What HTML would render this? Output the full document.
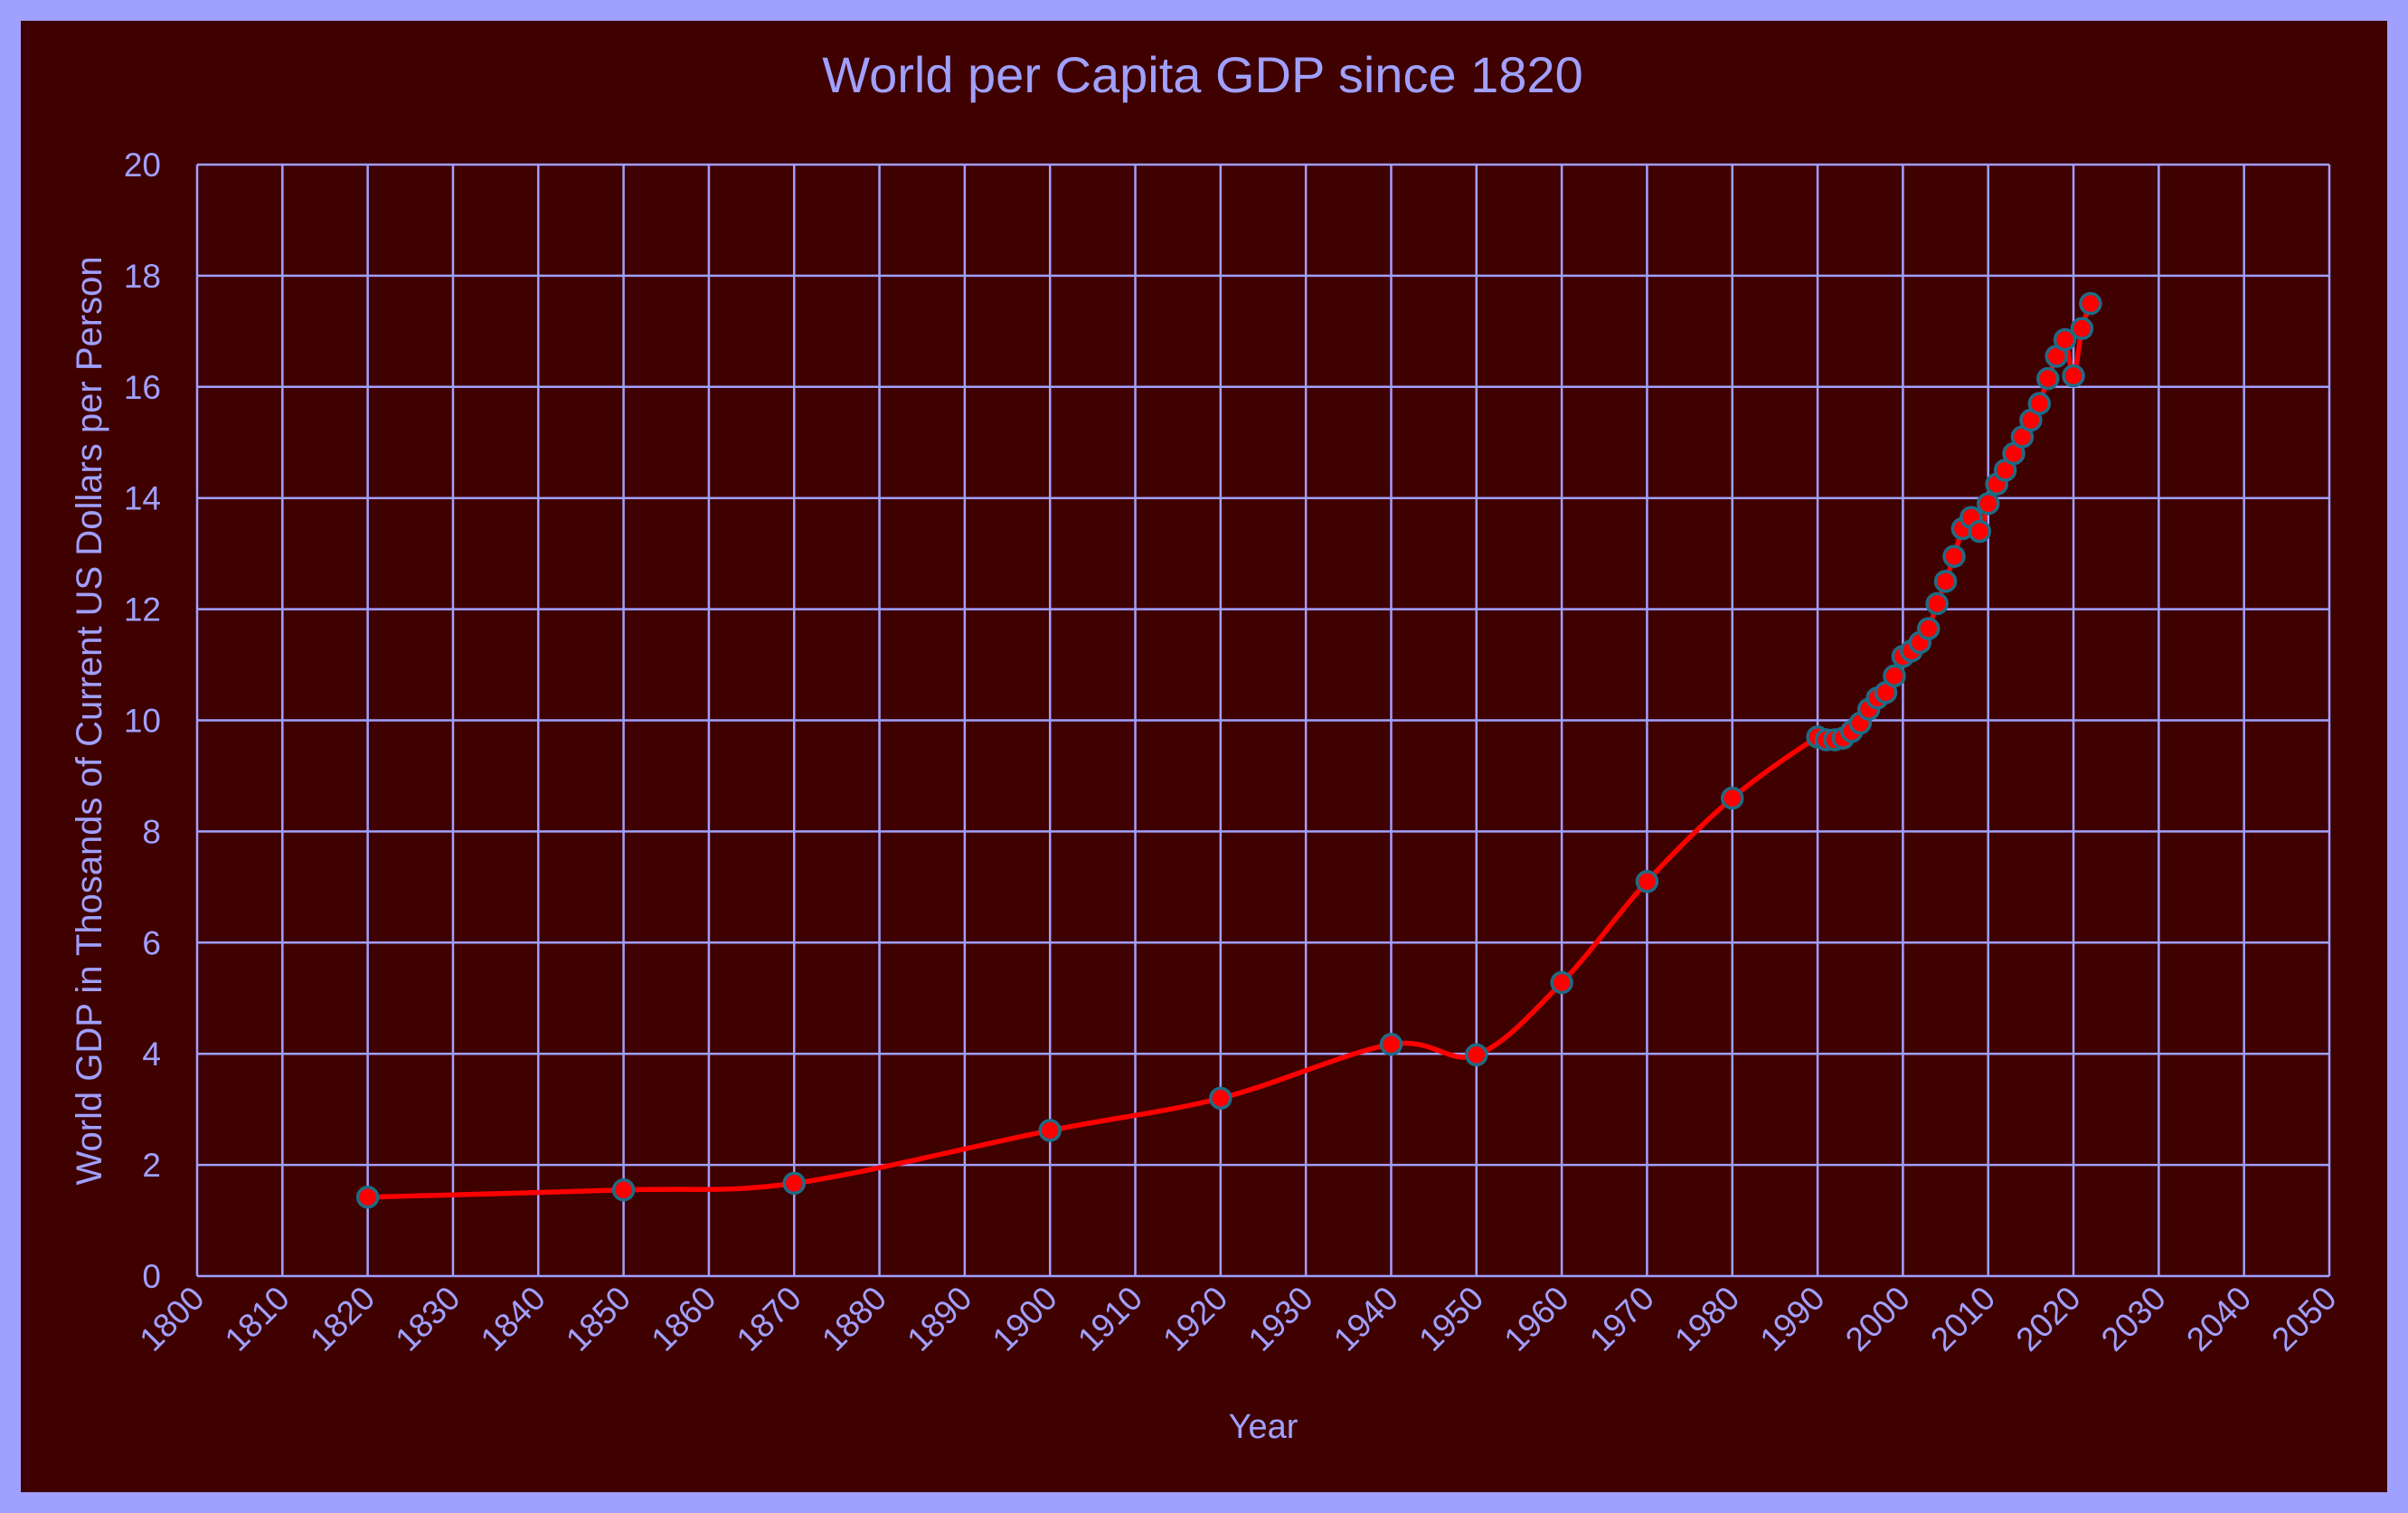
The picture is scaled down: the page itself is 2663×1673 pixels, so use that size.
<!DOCTYPE html>
<html><head><meta charset="utf-8"><style>
html,body{margin:0;padding:0;background:#a0a0ff;}
svg{display:block;font-family:"Liberation Sans",sans-serif;}
</style></head><body>
<svg id="s" width="2663" height="1673" xmlns="http://www.w3.org/2000/svg">
<rect x="0" y="0" width="2663" height="1673" rx="14" fill="#a0a0ff"/>
<rect x="23" y="23" width="2617" height="1627" fill="#3f0000"/>
<text x="1330" y="102" font-size="56" fill="#a0a0ff" text-anchor="middle">World per Capita GDP since 1820</text>
<text transform="translate(112,797) rotate(-90)" font-size="40" fill="#a0a0ff" text-anchor="middle">World GDP  in Thosands of Current US  Dollars per Person</text>
<text x="1397" y="1590" font-size="38" fill="#a0a0ff" text-anchor="middle">Year</text>
<g id="grid"></g>
<g id="data"></g>
</svg>
<script>
var L=218,R=2576,T=182,B=1411;
function X(y){return L+(y-1800)/250*(R-L);}
function Y(v){return B-v/20*(B-T);}
var g=document.getElementById('grid'),h='';
for(var i=0;i<=10;i++){var y=Y(i*2);h+='<line x1="'+L+'" x2="'+R+'" y1="'+y+'" y2="'+y+'" stroke="#a0a0ff" stroke-width="2.5"/>';
h+='<text x="178" y="'+(y+13)+'" font-size="37" fill="#a0a0ff" text-anchor="end">'+(i*2)+'</text>';}
for(var k=0;k<=25;k++){var yr=1800+k*10,x=X(yr);h+='<line x1="'+x+'" x2="'+x+'" y1="'+T+'" y2="'+B+'" stroke="#a0a0ff" stroke-width="2.5"/>';
h+='<text transform="translate('+(x+10)+',1438) rotate(-45)" font-size="37" fill="#a0a0ff" text-anchor="end">'+yr+'</text>';}
g.innerHTML=h;
var d=[[1820,1.42],[1850,1.55],[1870,1.67],[1900,2.62],[1920,3.2],[1940,4.17],[1950,3.98],[1960,5.28],[1970,7.1],[1980,8.6],[1990,9.7],[1991,9.65],[1992,9.65],[1993,9.68],[1994,9.8],[1995,9.95],[1996,10.2],[1997,10.4],[1998,10.5],[1999,10.8],[2000,11.15],[2001,11.25],[2002,11.4],[2003,11.65],[2004,12.1],[2005,12.5],[2006,12.95],[2007,13.45],[2008,13.65],[2009,13.4],[2010,13.9],[2011,14.25],[2012,14.5],[2013,14.8],[2014,15.1],[2015,15.4],[2016,15.7],[2017,16.15],[2018,16.55],[2019,16.85],[2020,16.2],[2021,17.05],[2022,17.5]];
var p=d.map(function(a){return [X(a[0]),Y(a[1])];});
var path='M'+p[0][0]+','+p[0][1];
for(var i=0;i<p.length-1;i++){var p0=p[i>0?i-1:i],p1=p[i],p2=p[i+1],p3=p[i+2<p.length?i+2:i+1];var t=1/6;
path+=' C'+(p1[0]+(p2[0]-p0[0])*t)+','+(p1[1]+(p2[1]-p0[1])*t)+' '+(p2[0]-(p3[0]-p1[0])*t)+','+(p2[1]-(p3[1]-p1[1])*t)+' '+p2[0]+','+p2[1];}
var s='<path d="'+path+'" fill="none" stroke="#ff0000" stroke-width="5.5"/>';
p.forEach(function(q){s+='<circle cx="'+q[0]+'" cy="'+q[1]+'" r="11" fill="#ff0000" stroke="#1f6b85" stroke-width="3.5"/>';});
document.getElementById('data').innerHTML=s;
</script>
</body></html>
